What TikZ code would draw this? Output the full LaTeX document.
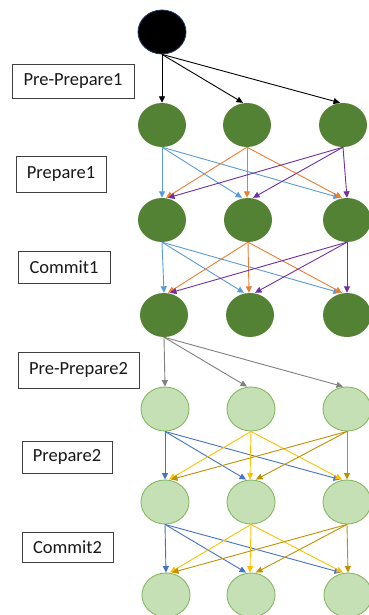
\documentclass[tikz,border=0pt]{standalone}
\usepackage{fontspec}
\setmainfont{Carlito}
\usetikzlibrary{shapes.geometric,arrows.meta,calc}
\definecolor{dgreen}{HTML}{548235}
\definecolor{lgreen}{HTML}{C5E0B4}
\definecolor{lgborder}{HTML}{86B865}
\definecolor{cblue}{HTML}{5B9BD5}
\definecolor{corange}{HTML}{ED7D31}
\definecolor{cpurple}{HTML}{7030A0}
\definecolor{cgray}{HTML}{808080}
\definecolor{dblue}{HTML}{4472C4}
\definecolor{cyellow}{HTML}{FFC000}
\definecolor{cgold}{HTML}{BF9000}
\definecolor{boxborder}{HTML}{404040}
\definecolor{blackborder}{HTML}{1F3864}
\begin{document}
\begin{tikzpicture}[x=1pt,y=-1pt,
  ell/.style={ellipse,minimum width=48pt,minimum height=44pt,inner sep=0pt},
  topnode/.style={ell,fill=black,draw=blackborder,line width=0.8pt},
  darknode/.style={ell,fill=dgreen},
  lightnode/.style={ell,fill=lgreen,draw=lgborder,line width=0.9pt},
  lbl/.style={draw=boxborder,line width=0.9pt,fill=white,inner sep=0pt,font=\fontsize{18.5}{20}\selectfont,text=black!90},
  arr/.style={line width=0.9pt,-{Triangle[length=6.5pt,width=6pt]}}
]
\useasboundingbox (0,0) rectangle (368,615);
% nodes
\node[topnode] (t) at (162,32) {};
\node[darknode] (a1) at (162,125) {};
\node[darknode] (a2) at (247,125) {};
\node[darknode] (a3) at (343,125) {};
\node[darknode] (b1) at (162,220) {};
\node[darknode] (b2) at (248,220) {};
\node[darknode] (b3) at (347,220) {};
\node[darknode] (c1) at (164,315) {};
\node[darknode] (c2) at (250,315) {};
\node[darknode] (c3) at (347,315) {};
\node[lightnode] (d1) at (165,409) {};
\node[lightnode] (d2) at (251,409) {};
\node[lightnode] (d3) at (347,409) {};
\node[lightnode] (e1) at (165,502) {};
\node[lightnode] (e2) at (251,502) {};
\node[lightnode] (e3) at (347,502) {};
\node[lightnode] (f1) at (166,595) {};
\node[lightnode] (f2) at (251,595) {};
\node[lightnode] (f3) at (348,595) {};
% labels
\node[lbl,minimum width=122pt,minimum height=34pt] (l1) at (73,81) {Pre-Prepare1};
\node[lbl,minimum width=90pt,minimum height=36pt] (l2) at (61,174) {Prepare1};
\node[lbl,minimum width=92pt,minimum height=32pt] (l3) at (64,267) {Commit1};
\node[lbl,minimum width=121pt,minimum height=36pt] (l4) at (78.5,370) {Pre-Prepare2};
\node[lbl,minimum width=90pt,minimum height=32pt] (l5) at (67,457) {Prepare2};
\node[lbl,minimum width=91pt,minimum height=30pt] (l6) at (67.5,547) {Commit2};
% pre-prepare 1
\draw[arr,black] (t.south) -- (a1.north);
\draw[arr,black] (t.south) -- ($(a2.north)+(-4,0)$);
\draw[arr,black] (t.south) -- ($(a3.north)+(-3,0)$);
% prepare 1 and commit 1
\foreach \s/\d in {a/b,b/c}{
  \draw[arr,cblue] (\s1.south) -- ($(\d1.north)+(0,0)$);
  \draw[arr,cblue] (\s1.south) -- ($(\d2.north)+(-6,0)$);
  \draw[arr,cblue] (\s1.south) -- ($(\d3.north)+(-7,0)$);
  \draw[arr,corange] (\s2.south) -- ($(\d1.north)+(4,0)$);
  \draw[arr,corange] (\s2.south) -- ($(\d2.north)+(-1,0)$);
  \draw[arr,corange] (\s2.south) -- ($(\d3.north)+(-5,0)$);
  \draw[arr,cpurple] (\s3.south) -- ($(\d1.north)+(6,0)$);
  \draw[arr,cpurple] (\s3.south) -- ($(\d2.north)+(5,0)$);
  \draw[arr,cpurple] (\s3.south) -- ($(\d3.north)+(0,0)$);
}
% pre-prepare 2
\draw[arr,cgray] (c1.south) -- (d1.north);
\draw[arr,cgray] (c1.south) -- ($(d2.north)+(-4,0)$);
\draw[arr,cgray] (c1.south) -- ($(d3.north)+(-4,0)$);
% prepare 2 and commit 2
\foreach \s/\d in {d/e,e/f}{
  \draw[arr,dblue] (\s1.south) -- ($(\d1.north)+(0,0)$);
  \draw[arr,dblue] (\s1.south) -- ($(\d2.north)+(-5,0)$);
  \draw[arr,dblue] (\s1.south) -- ($(\d3.north)+(-7,0)$);
  \draw[arr,cyellow] (\s2.south) -- ($(\d1.north)+(4,0)$);
  \draw[arr,cyellow] (\s2.south) -- ($(\d2.north)+(-1,0)$);
  \draw[arr,cyellow] (\s2.south) -- ($(\d3.north)+(-5,0)$);
  \draw[arr,cgold] (\s3.south) -- ($(\d1.north)+(6,0)$);
  \draw[arr,cgold] (\s3.south) -- ($(\d2.north)+(5,0)$);
  \draw[arr,cgold] (\s3.south) -- ($(\d3.north)+(0,0)$);
}
\end{tikzpicture}
\end{document}
